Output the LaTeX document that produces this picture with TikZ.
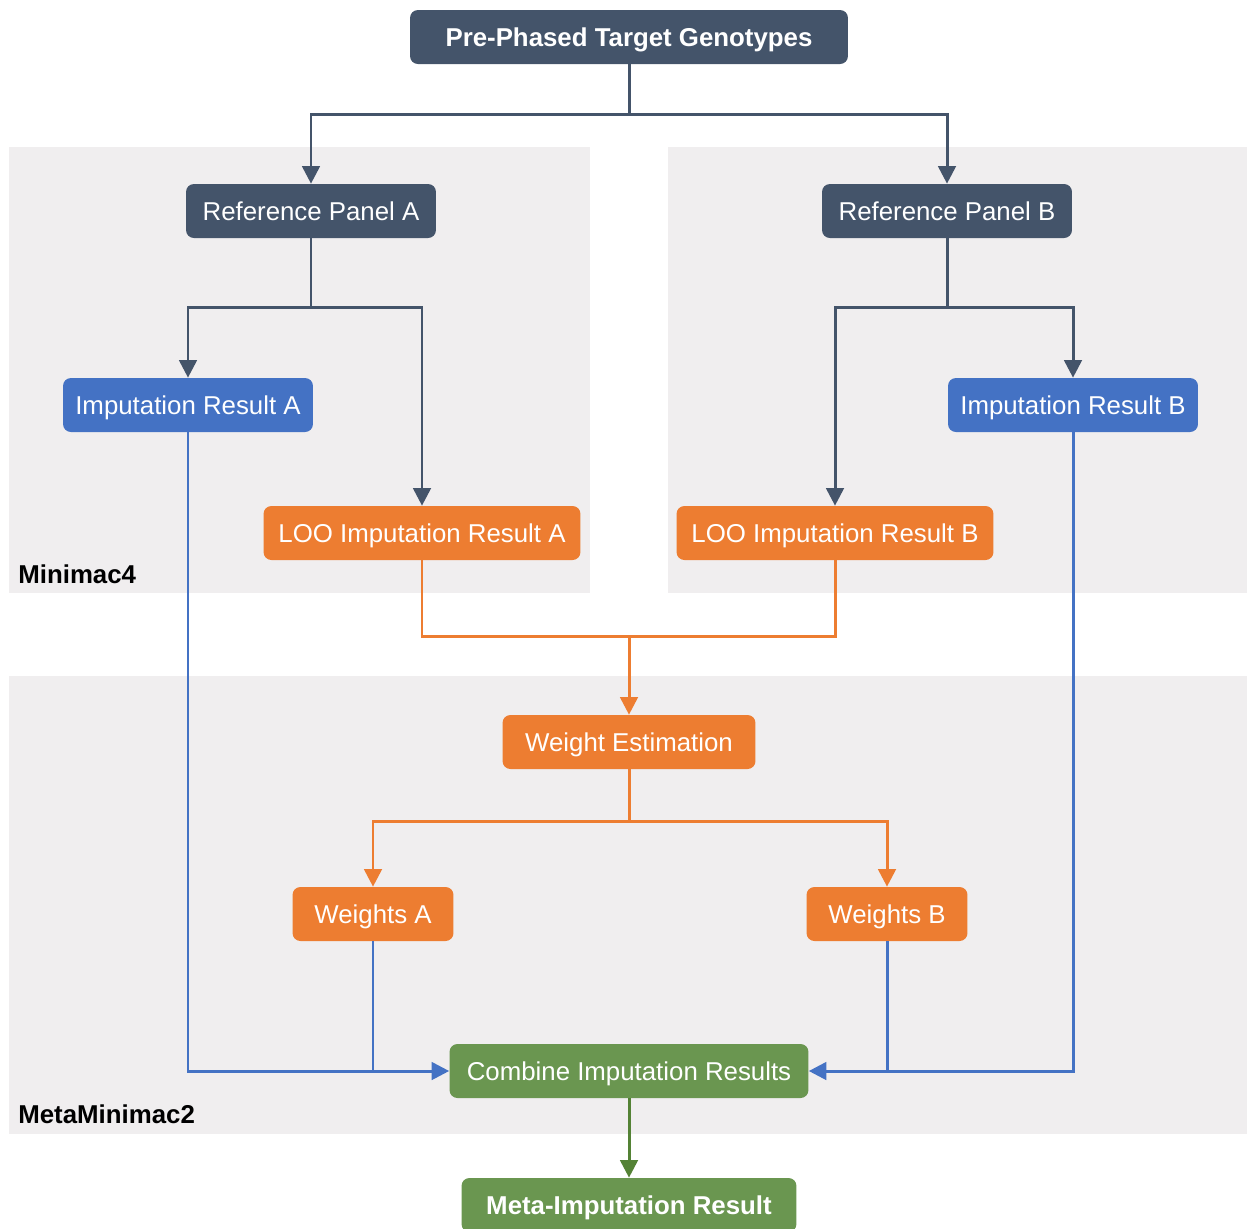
\documentclass[tikz,border=0pt]{standalone}
\usepackage{fontspec}
\setmainfont{Liberation Sans}
\usetikzlibrary{arrows.meta}
\definecolor{slate}{HTML}{44546A}
\definecolor{impblue}{HTML}{4472C4}
\definecolor{looorange}{HTML}{ED7D31}
\definecolor{boxgreen}{HTML}{6A9650}
\definecolor{linegreen}{HTML}{548235}
\definecolor{groupgray}{HTML}{F0EEEF}
\begin{document}
\begin{tikzpicture}[x=0.02cm,y=-0.02cm,>={Triangle[length=10pt,width=10pt]},
    box/.style={rounded corners=4.5pt,minimum height=1.08cm,inner sep=0pt,text height=11pt,text depth=0pt,text=white,font=\fontsize{14.7}{17}\selectfont},
    link/.style={line width=1.7pt},
    grouplabel/.style={anchor=west,inner sep=0pt,font=\fontsize{14.7}{17}\selectfont\bfseries}]
    \useasboundingbox (0,0) rectangle (1247,1228);
    \fill[groupgray] (9,147) rectangle (590,593);
    \fill[groupgray] (668,147) rectangle (1247,593);
    \fill[groupgray] (9,676) rectangle (1247,1134);
    \node[grouplabel] (lblmini) at (18,574) {Minimac4};
    \node[grouplabel] (lblmeta) at (18,1114) {MetaMinimac2};
    \node[box,fill=slate,minimum width=8.76cm,font=\fontsize{14.7}{17}\selectfont\bfseries] (target) at (629,37) {Pre-Phased Target Genotypes};
    \node[box,fill=slate,minimum width=5cm] (refA) at (311,211) {Reference Panel A};
    \node[box,fill=slate,minimum width=5cm] (refB) at (947,211) {Reference Panel B};
    \node[box,fill=impblue,minimum width=5cm] (impA) at (188,405) {Imputation Result A};
    \node[box,fill=impblue,minimum width=5cm] (impB) at (1073,405) {Imputation Result B};
    \node[box,fill=looorange,minimum width=6.34cm] (looA) at (422,533) {LOO Imputation Result A};
    \node[box,fill=looorange,minimum width=6.34cm] (looB) at (835,533) {LOO Imputation Result B};
    \node[box,fill=looorange,minimum width=5.06cm] (west) at (629,742) {Weight Estimation};
    \node[box,fill=looorange,minimum width=3.22cm] (wA) at (373,914) {Weights A};
    \node[box,fill=looorange,minimum width=3.22cm] (wB) at (887,914) {Weights B};
    \node[box,fill=boxgreen,minimum width=7.18cm] (comb) at (629,1071) {Combine Imputation Results};
    \node[box,fill=boxgreen,minimum width=6.7cm,font=\fontsize{14.7}{17}\selectfont\bfseries] (meta) at (629,1205) {Meta-Imputation Result};
    \coordinate (split0) at (629,114);
    \coordinate (splitA) at (311,307);
    \coordinate (splitB) at (947,307);
    \coordinate (merge) at (629,636);
    \coordinate (splitW) at (629,821);
    \draw[link,slate] (target) -- (split0);
    \draw[link,slate,->] (split0) -| (refA);
    \draw[link,slate,->] (split0) -| (refB);
    \draw[link,slate] (refA) -- (splitA);
    \draw[link,slate,->] (splitA) -| (impA);
    \draw[link,slate,->] (splitA) -| (looA);
    \draw[link,slate] (refB) -- (splitB);
    \draw[link,slate,->] (splitB) -| (looB);
    \draw[link,slate,->] (splitB) -| (impB);
    \draw[link,looorange] (looA) |- (merge);
    \draw[link,looorange] (looB) |- (merge);
    \draw[link,looorange,->] (merge) -- (west);
    \draw[link,looorange] (west) -- (splitW);
    \draw[link,looorange,->] (splitW) -| (wA);
    \draw[link,looorange,->] (splitW) -| (wB);
    \draw[link,impblue,->] (impA) |- (comb);
    \draw[link,impblue,->] (impB) |- (comb);
    \draw[link,impblue] (wA) -- (wA|-comb);
    \draw[link,impblue] (wB) -- (wB|-comb);
    \draw[link,linegreen,->] (comb) -- (meta);
\end{tikzpicture}
\end{document}
